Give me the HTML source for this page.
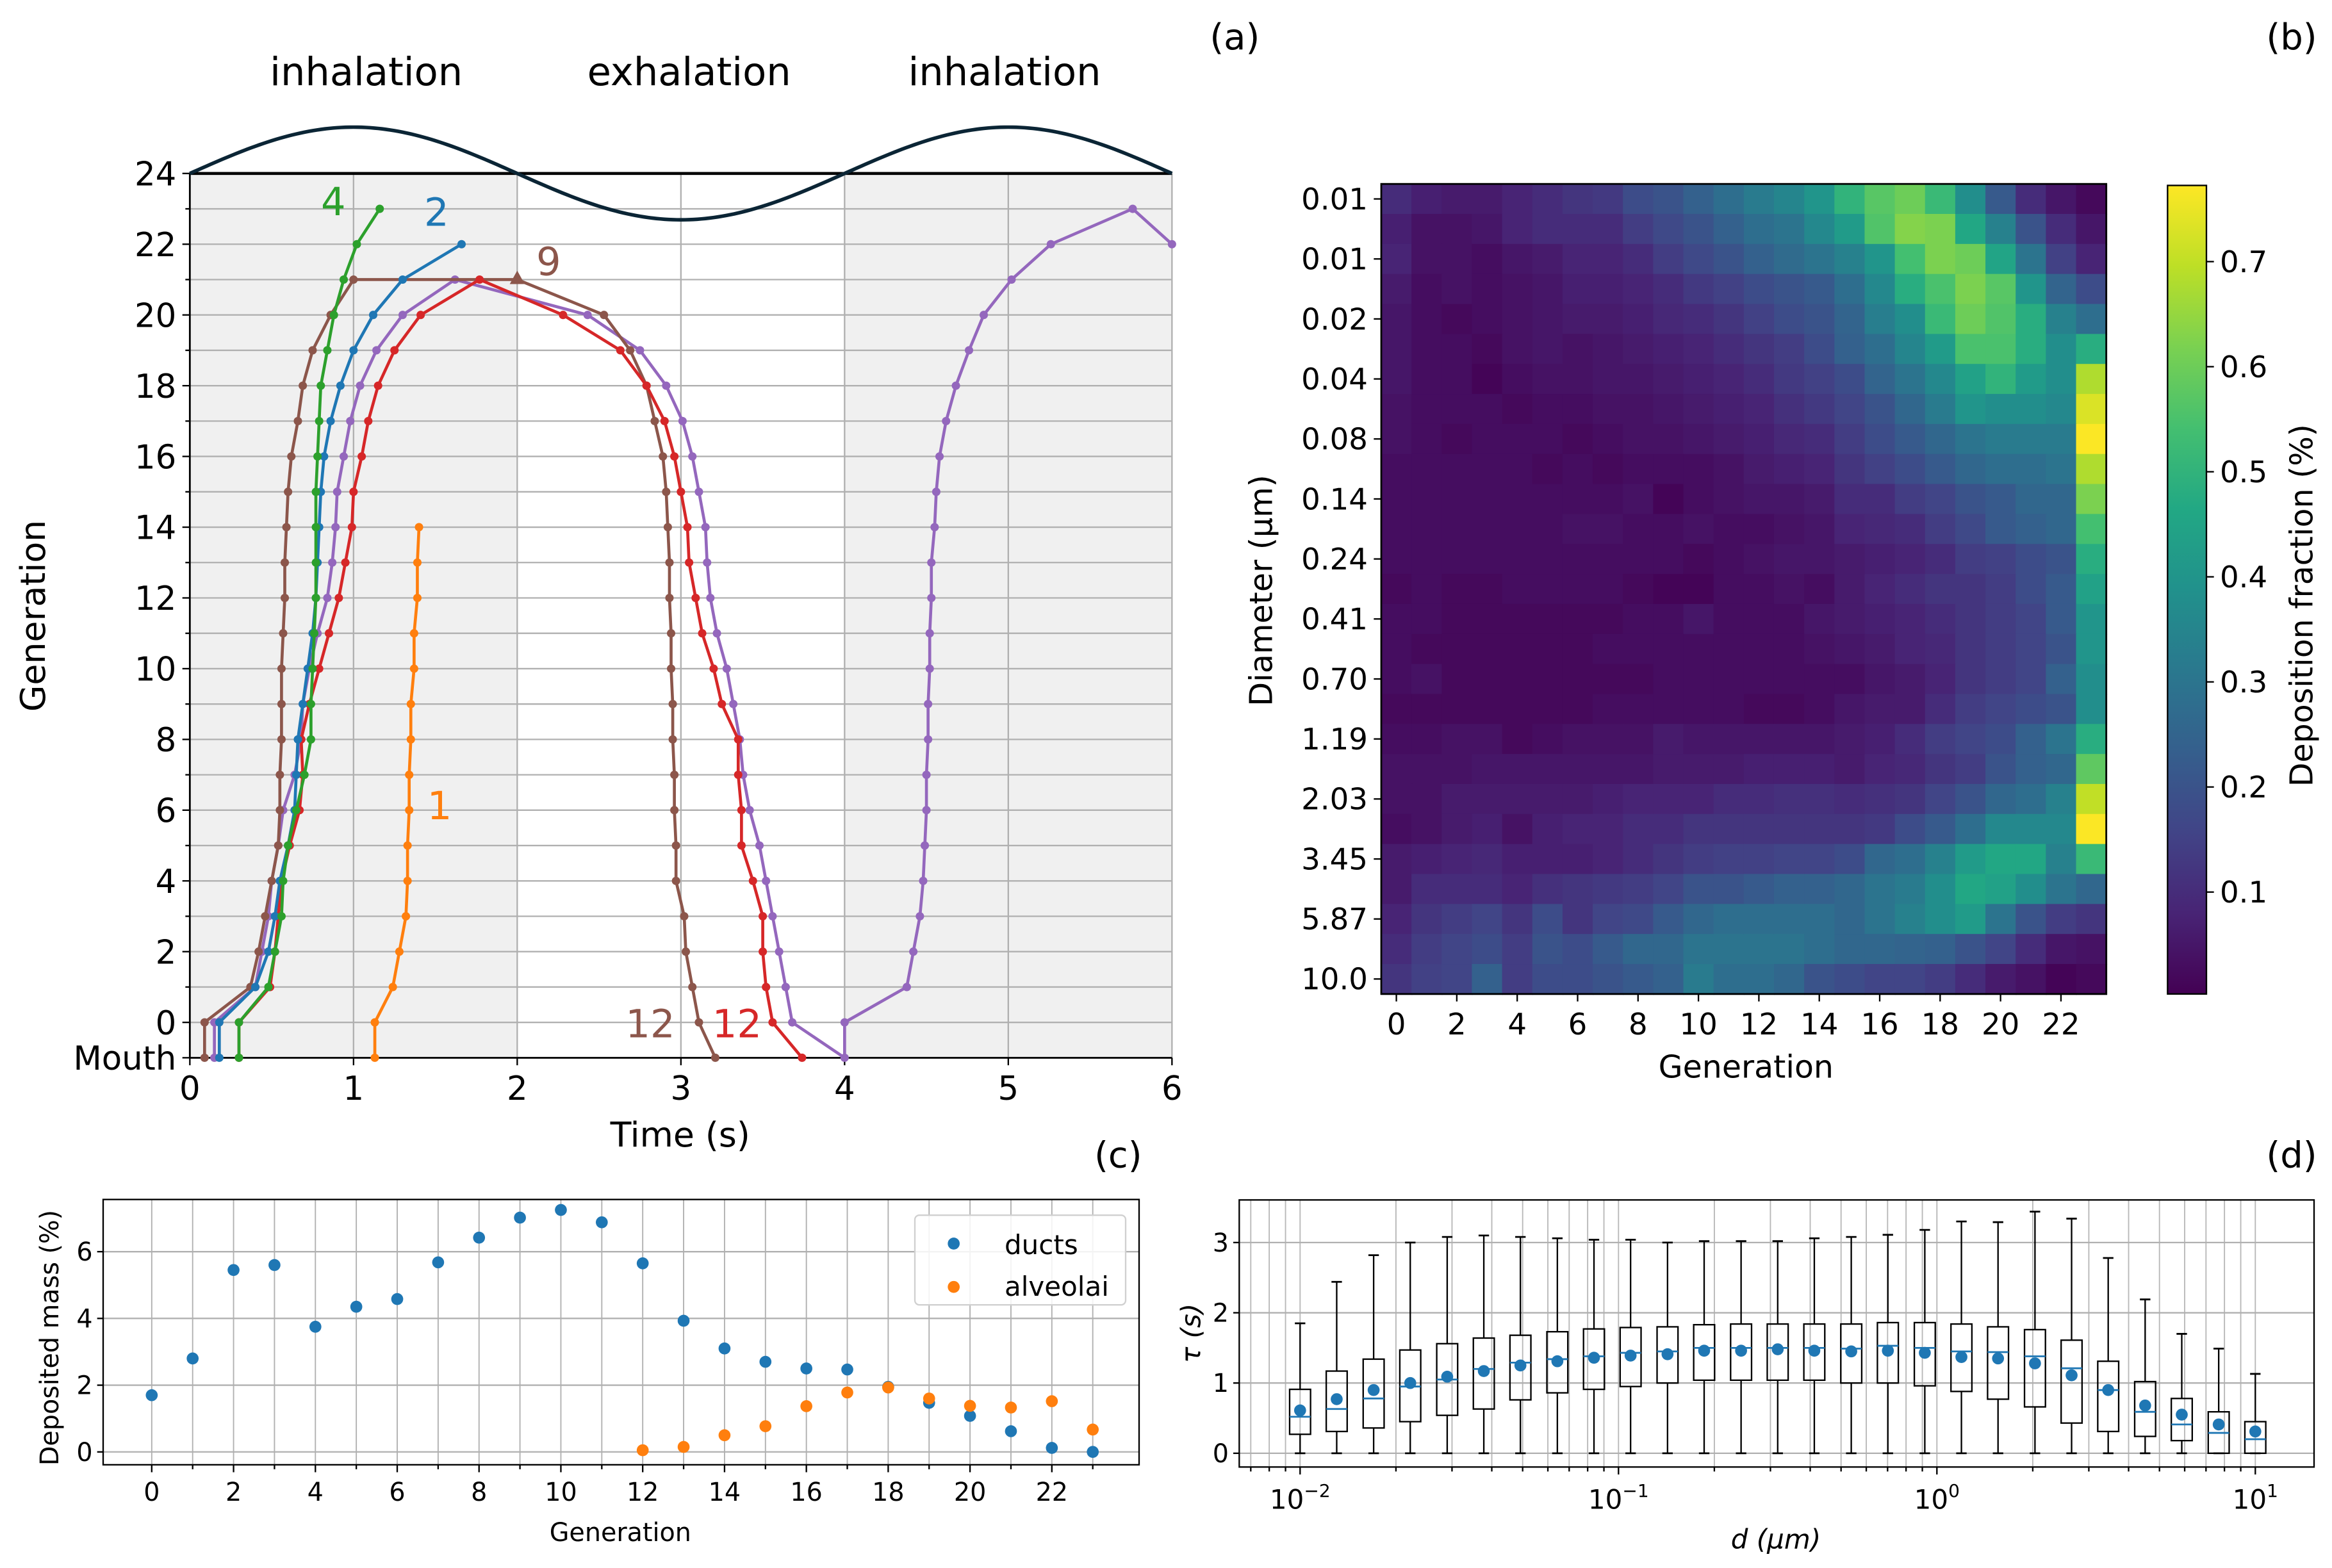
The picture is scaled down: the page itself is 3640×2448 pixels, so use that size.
<!DOCTYPE html>
<html><head><meta charset="utf-8"><style>
html,body{margin:0;padding:0;background:#fff;}
svg{display:block;font-family:"DejaVu Sans","Liberation Sans",sans-serif;}
</style></head><body>
<svg id="fig" xmlns="http://www.w3.org/2000/svg" width="3640" height="2448" viewBox="0 0 1560 1049">
<rect x="0" y="0" width="1560" height="1049" fill="#fff"/>
</svg>
<script>
// ---------- Panel (a) data: [time, generation] pairs (generation -1 = Mouth) ----------
const seriesGreen = [[0.30,-1],[0.30,0],[0.48,1],[0.52,2],[0.56,3],[0.57,4],[0.60,5],[0.65,6],[0.70,7],[0.74,8],[0.74,9],[0.75,10],[0.76,11],[0.77,12],[0.77,13],[0.77,14],[0.77,15],[0.78,16],[0.79,17],[0.80,18],[0.84,19],[0.88,20],[0.94,21],[1.02,22],[1.16,23]];
const seriesBlue = [[0.18,-1],[0.18,0],[0.40,1],[0.48,2],[0.52,3],[0.55,4],[0.60,5],[0.64,6],[0.65,7],[0.66,8],[0.69,9],[0.72,10],[0.75,11],[0.77,12],[0.78,13],[0.79,14],[0.80,15],[0.82,16],[0.86,17],[0.92,18],[1.00,19],[1.12,20],[1.30,21],[1.66,22]];
const seriesOrange = [[1.13,-1],[1.13,0],[1.24,1],[1.28,2],[1.32,3],[1.33,4],[1.33,5],[1.34,6],[1.34,7],[1.35,8],[1.35,9],[1.37,10],[1.37,11],[1.39,12],[1.39,13],[1.40,14]];
const seriesBrown = [[0.09,-1],[0.09,0],[0.37,1],[0.42,2],[0.46,3],[0.50,4],[0.54,5],[0.55,6],[0.55,7],[0.56,8],[0.56,9],[0.56,10],[0.57,11],[0.58,12],[0.58,13],[0.59,14],[0.60,15],[0.62,16],[0.66,17],[0.69,18],[0.75,19],[0.86,20],[1.00,21],[2.00,21],[2.53,20],[2.69,19],[2.79,18],[2.84,17],[2.89,16],[2.91,15],[2.92,14],[2.93,13],[2.93,12],[2.94,11],[2.94,10],[2.95,9],[2.95,8],[2.96,7],[2.96,6],[2.97,5],[2.97,4],[3.02,3],[3.03,2],[3.07,1],[3.11,0],[3.21,-1]];
const seriesRed = [[0.30,-1],[0.30,0],[0.49,1],[0.52,2],[0.54,3],[0.56,4],[0.61,5],[0.67,6],[0.69,7],[0.68,8],[0.73,9],[0.79,10],[0.85,11],[0.91,12],[0.95,13],[0.99,14],[1.00,15],[1.05,16],[1.09,17],[1.15,18],[1.25,19],[1.41,20],[1.77,21],[2.28,20],[2.63,19],[2.79,18],[2.90,17],[2.96,16],[3.00,15],[3.04,14],[3.05,13],[3.09,12],[3.13,11],[3.20,10],[3.25,9],[3.35,8],[3.35,7],[3.37,6],[3.37,5],[3.44,4],[3.50,3],[3.50,2],[3.52,1],[3.56,0],[3.74,-1]];
const seriesPurple = [[0.15,-1],[0.15,0],[0.40,1],[0.44,2],[0.48,3],[0.50,4],[0.54,5],[0.57,6],[0.64,7],[0.68,8],[0.69,9],[0.73,10],[0.78,11],[0.84,12],[0.87,13],[0.89,14],[0.90,15],[0.94,16],[0.98,17],[1.04,18],[1.14,19],[1.30,20],[1.62,21],[2.43,20],[2.75,19],[2.91,18],[3.01,17],[3.07,16],[3.11,15],[3.15,14],[3.16,13],[3.18,12],[3.22,11],[3.28,10],[3.32,9],[3.36,8],[3.38,7],[3.42,6],[3.48,5],[3.52,4],[3.56,3],[3.60,2],[3.64,1],[3.68,0],[4.00,-1],[4.00,0],[4.38,1],[4.42,2],[4.46,3],[4.48,4],[4.49,5],[4.50,6],[4.50,7],[4.51,8],[4.51,9],[4.52,10],[4.52,11],[4.53,12],[4.53,13],[4.55,14],[4.56,15],[4.58,16],[4.62,17],[4.68,18],[4.76,19],[4.85,20],[5.02,21],[5.26,22],[5.76,23],[6.00,22]];
const timeTicks = [0,1,2,3,4,5,6];
const genTicks = [0,2,4,6,8,10,12,14,16,18,20,22,24];

// ---------- Panel (b) data ----------
const diamLabels = ["0.01","0.01","0.02","0.04","0.08","0.14","0.24","0.41","0.70","1.19","2.03","3.45","5.87","10.0"];
const heatGenTicks = [0,2,4,6,8,10,12,14,16,18,20,22];
const cbarTicks = [0.1,0.2,0.3,0.4,0.5,0.6,0.7];
const heat = [
[.10,.07,.06,.06,.08,.10,.12,.13,.18,.20,.24,.28,.32,.35,.40,.50,.57,.60,.52,.38,.22,.10,.05,.02],
[.07,.04,.04,.05,.08,.10,.10,.10,.14,.17,.20,.24,.28,.30,.36,.42,.56,.63,.62,.46,.34,.20,.10,.05],
[.08,.04,.04,.03,.05,.06,.08,.08,.10,.14,.17,.20,.24,.27,.30,.34,.40,.54,.62,.60,.45,.30,.15,.08],
[.06,.03,.04,.03,.04,.05,.07,.07,.08,.10,.13,.15,.18,.20,.22,.28,.36,.48,.55,.62,.57,.40,.25,.18],
[.05,.03,.02,.03,.04,.05,.06,.06,.07,.09,.10,.12,.15,.18,.20,.25,.33,.38,.52,.60,.56,.48,.34,.28],
[.05,.03,.03,.02,.04,.05,.04,.05,.06,.07,.08,.10,.12,.14,.18,.24,.28,.35,.42,.55,.55,.48,.38,.48],
[.05,.03,.03,.01,.03,.04,.04,.05,.05,.06,.07,.08,.10,.13,.15,.18,.25,.30,.36,.44,.50,.42,.38,.68],
[.04,.03,.03,.03,.02,.03,.03,.04,.04,.05,.06,.07,.08,.11,.13,.16,.20,.26,.32,.40,.38,.38,.36,.73],
[.04,.03,.02,.03,.03,.03,.02,.03,.04,.04,.05,.06,.07,.09,.10,.14,.18,.22,.26,.30,.32,.32,.32,.77],
[.03,.03,.03,.03,.03,.02,.03,.02,.03,.03,.03,.04,.06,.07,.08,.12,.15,.18,.22,.26,.28,.28,.30,.68],
[.03,.03,.03,.03,.03,.03,.03,.03,.04,.01,.03,.04,.05,.05,.06,.10,.10,.14,.16,.20,.22,.26,.26,.62],
[.03,.03,.03,.03,.03,.03,.04,.04,.03,.03,.04,.03,.03,.04,.05,.08,.09,.10,.14,.17,.22,.24,.26,.54],
[.03,.03,.03,.03,.03,.03,.03,.03,.03,.03,.02,.03,.04,.05,.05,.06,.07,.08,.10,.14,.15,.18,.20,.48],
[.02,.03,.02,.02,.03,.03,.03,.03,.02,.01,.01,.03,.03,.04,.03,.06,.08,.10,.12,.12,.14,.18,.22,.44],
[.03,.03,.02,.02,.02,.02,.02,.02,.03,.03,.05,.03,.03,.03,.05,.06,.07,.08,.10,.12,.14,.16,.22,.40],
[.03,.02,.02,.02,.02,.02,.02,.03,.03,.03,.03,.03,.03,.03,.04,.05,.06,.08,.09,.12,.14,.16,.20,.40],
[.03,.04,.02,.02,.02,.02,.02,.02,.02,.03,.03,.03,.03,.03,.03,.03,.05,.06,.08,.12,.14,.16,.24,.38],
[.02,.02,.02,.02,.02,.02,.02,.03,.03,.03,.03,.03,.02,.02,.03,.05,.06,.06,.10,.14,.16,.18,.20,.38],
[.03,.03,.04,.04,.02,.03,.04,.04,.04,.06,.05,.05,.05,.05,.05,.06,.07,.10,.14,.16,.18,.24,.30,.48],
[.04,.04,.04,.05,.05,.05,.05,.05,.05,.06,.06,.06,.07,.07,.07,.06,.08,.09,.12,.14,.20,.24,.26,.58],
[.04,.04,.06,.06,.06,.06,.06,.07,.08,.08,.08,.10,.10,.11,.11,.10,.11,.12,.16,.20,.26,.28,.34,.70],
[.03,.04,.06,.07,.04,.07,.08,.08,.10,.10,.12,.12,.12,.12,.12,.12,.13,.18,.22,.28,.36,.36,.36,.77],
[.06,.07,.08,.09,.07,.07,.07,.08,.10,.12,.14,.15,.15,.16,.16,.18,.26,.28,.34,.42,.46,.46,.34,.52],
[.06,.10,.10,.10,.08,.11,.12,.13,.14,.16,.20,.20,.22,.24,.24,.26,.30,.32,.38,.46,.44,.38,.30,.26],
[.08,.12,.14,.16,.12,.18,.12,.16,.17,.22,.26,.28,.28,.28,.28,.26,.30,.34,.38,.42,.30,.20,.14,.12],
[.10,.14,.16,.18,.14,.20,.18,.22,.26,.26,.30,.30,.30,.30,.28,.26,.26,.25,.24,.20,.16,.10,.05,.04],
[.12,.15,.16,.24,.14,.18,.18,.20,.22,.24,.32,.28,.28,.26,.20,.18,.16,.16,.14,.10,.06,.04,.01,.02]];

// ---------- Panel (c) data ----------
const ductGens = [0,1,2,3,4,5,6,7,8,9,10,11,12,13,14,15,16,17,18,19,20,21,22,23];
const ductVals = [1.70,2.80,5.45,5.60,3.75,4.35,4.58,5.68,6.42,7.02,7.25,6.88,5.65,3.93,3.10,2.70,2.50,2.47,1.95,1.47,1.08,0.62,0.12,0.00];
const alvGens = [12,13,14,15,16,17,18,19,20,21,22,23];
const alvVals = [0.05,0.15,0.50,0.77,1.37,1.78,1.93,1.60,1.38,1.33,1.52,0.67];
const massTicks = [0,2,4,6];
const cGenTicks = [0,2,4,6,8,10,12,14,16,18,20,22];

// ---------- Panel (d) data ----------
const boxQ1 = [.27,.31,.36,.45,.54,.63,.76,.86,.91,.95,1.00,1.04,1.04,1.04,1.04,1.00,1.00,.96,.88,.77,.66,.43,.31,.24,.18,0,0];
const boxMed = [.52,.63,.78,.95,1.05,1.20,1.29,1.34,1.38,1.43,1.45,1.50,1.50,1.50,1.50,1.49,1.53,1.50,1.45,1.44,1.38,1.21,.90,.59,.41,.29,.20];
const boxQ3 = [.91,1.17,1.34,1.47,1.56,1.64,1.68,1.73,1.77,1.79,1.80,1.83,1.84,1.84,1.84,1.84,1.86,1.86,1.84,1.80,1.76,1.61,1.31,1.02,.78,.59,.45];
const boxHi = [1.85,2.44,2.82,3.00,3.08,3.10,3.08,3.06,3.04,3.04,3.00,3.02,3.02,3.02,3.06,3.08,3.11,3.18,3.30,3.29,3.44,3.34,2.78,2.19,1.70,1.49,1.13];
const boxLo = [0,0,0,0,0,0,0,0,0,0,0,0,0,0,0,0,0,0,0,0,0,0,0,0,0,0,0];
const boxMean = [.61,.77,.90,1.00,1.09,1.17,1.25,1.31,1.36,1.39,1.41,1.46,1.46,1.48,1.46,1.45,1.46,1.43,1.37,1.35,1.28,1.11,.90,.68,.55,.41,.31];
const boxLogD = [-2,-1.885,-1.769,-1.654,-1.538,-1.423,-1.308,-1.192,-1.077,-0.962,-0.846,-0.731,-0.615,-0.5,-0.385,-0.269,-0.154,-0.038,0.077,0.192,0.308,0.423,0.538,0.654,0.769,0.885,1];
const tauTicks = [0,1,2,3];
const decadeTicks = [-2,-1,0,1];

// ---------- helpers ----------
const svg = document.getElementById('fig');
const NS = 'http://www.w3.org/2000/svg';
function mk(tag, attrs, parent){
  const e = document.createElementNS(NS, tag);
  for (const k in attrs) e.setAttribute(k, attrs[k]);
  (parent||svg).appendChild(e);
  return e;
}
function txt(s, x, y, size, anchor, parent, extra){
  const t = mk('text', Object.assign({x:x, y:y, 'font-size':size, 'text-anchor':anchor||'middle', fill:'#000'}, extra||{}), parent);
  t.textContent = s;
  return t;
}
const C = {blue:'#1f77b4', orange:'#ff7f0e', green:'#2ca02c', red:'#d62728', purple:'#9467bd', brown:'#8c564b'};

// ================= Panel (a) =================
const A = {x0:127, x1:784, y0:116, yBottom:707.7};
const ax = t => A.x0 + t*(A.x1-A.x0)/6;
const ay = g => 684 - g*23.667;
const gA = mk('g', {});


[[0,2],[4,6]].forEach(r=>{
  const b = mk('rect', {x:ax(r[0]), y:A.y0, width:ax(r[1])-ax(r[0]), height:A.yBottom-A.y0, fill:'#f0f0f0'}, gA);
  
  
});
for (let g=-1; g<=24; g++){
  mk('line', {x1:A.x0, x2:A.x1, y1:ay(g), y2:ay(g), stroke:'#b0b0b0', 'stroke-width':1}, gA);
}
timeTicks.forEach(t=>{
  mk('line', {x1:ax(t), x2:ax(t), y1:A.y0, y2:A.yBottom, stroke:'#b0b0b0', 'stroke-width':1}, gA);
  mk('line', {x1:ax(t), x2:ax(t), y1:A.yBottom, y2:A.yBottom+5, stroke:'#000', 'stroke-width':1}, gA);
  const l = txt(String(t), ax(t), A.yBottom+28, 22, 'middle', gA);
  
  
});
genTicks.forEach(g=>{
  mk('line', {x1:A.x0-5, x2:A.x0, y1:ay(g), y2:ay(g), stroke:'#000'}, gA);
  const l = txt(String(g), A.x0-9, ay(g)+8, 22, 'end', gA);
  
  
});
for (let g=1; g<24; g+=2) mk('line', {x1:A.x0-3, x2:A.x0, y1:ay(g), y2:ay(g), stroke:'#000'}, gA);
mk('line', {x1:A.x0-5, x2:A.x0, y1:ay(-1), y2:ay(-1), stroke:'#000'}, gA);
txt('Mouth', A.x0-9, ay(-1)+8, 22, 'end', gA);
mk('line', {x1:A.x0, x2:A.x0, y1:A.y0, y2:A.yBottom, stroke:'#000', 'stroke-width':1.2}, gA);
mk('line', {x1:A.x0, x2:A.x1, y1:A.yBottom, y2:A.yBottom, stroke:'#000', 'stroke-width':1.2}, gA);
mk('line', {x1:A.x0, x2:A.x1, y1:A.y0, y2:A.y0, stroke:'#000', 'stroke-width':2}, gA);
let sp = '';
for (let i=0;i<=240;i++){ const t=6*i/240; sp += (i?'L':'M') + ax(t).toFixed(2) + ' ' + (116 - 31*Math.sin(Math.PI*t/2)).toFixed(2); }
const sine = mk('path', {d:sp, fill:'none', stroke:'#0b2535', 'stroke-width':2.4}, gA);


function drawSeries(data, color, name){
  const g = mk('g', {}, gA);
  
  
  mk('polyline', {points:data.map(p=>ax(p[0]).toFixed(2)+','+ay(p[1]).toFixed(2)).join(' '), fill:'none', stroke:color, 'stroke-width':2}, g);
  data.forEach(p=>{ mk('circle', {cx:ax(p[0]), cy:ay(p[1]), r:2.8, fill:color}, g); });
  return g;
}
drawSeries(seriesPurple, C.purple, 'series-purple');
drawSeries(seriesBrown, C.brown, 'series-brown');
drawSeries(seriesRed, C.red, 'series-red');
drawSeries(seriesBlue, C.blue, 'series-blue');
drawSeries(seriesGreen, C.green, 'series-green');
drawSeries(seriesOrange, C.orange, 'series-orange');
const tri = mk('polygon', {points:`${ax(2)},${ay(21)-6} ${ax(2)-5},${ay(21)+3} ${ax(2)+5},${ay(21)+3}`, fill:C.brown}, gA);


[['4',223,144,C.green],['2',292,151,C.blue],['9',367,184,C.brown],['1',294,548,C.orange],['12',435,694,C.brown],['12',493,694,C.red]].forEach(s=>{
  const l = txt(s[0], s[1], s[2], 26, 'middle', gA, {fill:s[3]});
  
  
});
[['inhalation',245],['exhalation',461],['inhalation',672]].forEach(s=>{
  const l = txt(s[0], s[1], 57, 26, 'middle', gA);
  
  
});
const axa = txt('Time (s)', 455, 767, 23, 'middle', gA);


const aya = txt('Generation', 0, 0, 23, 'middle', gA, {transform:'translate(30,412) rotate(-90)'});


const la = txt('(a)', 826, 33, 24, 'middle', gA);



// ================= Panel (b) heatmap =================
const stops = [[0,'#440154'],[0.1,'#482475'],[0.2,'#414487'],[0.3,'#355f8d'],[0.4,'#2a788e'],[0.5,'#21918c'],[0.6,'#22a884'],[0.7,'#44bf70'],[0.8,'#7ad151'],[0.9,'#bddf26'],[1,'#fde725']];
function hex(h){return [parseInt(h.slice(1,3),16),parseInt(h.slice(3,5),16),parseInt(h.slice(5,7),16)];}
function viridis(f){
  f=Math.max(0,Math.min(1,f));
  for (let i=1;i<stops.length;i++){
    if (f<=stops[i][0]){
      const a=hex(stops[i-1][1]), b=hex(stops[i][1]), u=(f-stops[i-1][0])/(stops[i][0]-stops[i-1][0]);
      return 'rgb('+a.map((v,k)=>Math.round(v+(b[k]-v)*u)).join(',')+')';
    }
  }
  return stops[stops.length-1][1];
}
const vmin = 0.003, vmax = 0.7725;
const B = {x0:924, x1:1409, y0:123, y1:665};
const nR = heat.length, nC = heat[0].length;
const cw = (B.x1-B.x0)/nC, ch = (B.y1-B.y0)/nR;
const bx = c => B.x0 + c*cw;
const by = r => B.y0 + r*ch;
const gB = mk('g', {});


heat.forEach((row,r)=>row.forEach((v,c)=>{
  const cell = mk('rect', {x:bx(c).toFixed(2), y:by(r).toFixed(2), width:(cw+0.6).toFixed(2), height:(ch+0.6).toFixed(2), fill:viridis((v-vmin)/(vmax-vmin))}, gB);
  
  
}));
mk('rect', {x:B.x0, y:B.y0, width:B.x1-B.x0, height:B.y1-B.y0, fill:'none', stroke:'#000', 'stroke-width':1.2}, gB);
diamLabels.forEach((s,i)=>{
  const y = by(2*i)+ch/2;
  mk('line', {x1:B.x0-5, x2:B.x0, y1:y, y2:y, stroke:'#000'}, gB);
  const l = txt(s, B.x0-9, y+7, 20, 'end', gB);
  
  
});
heatGenTicks.forEach(g=>{
  const x = bx(g)+cw/2;
  mk('line', {x1:x, x2:x, y1:B.y1, y2:B.y1+5, stroke:'#000'}, gB);
  const l = txt(String(g), x, B.y1+27, 20, 'middle', gB);
  
  
});
const bxa = txt('Generation', 1168, 721, 21, 'middle', gB);


const bya = txt('Diameter (μm)', 0, 0, 21, 'middle', gB, {transform:'translate(851,395) rotate(-90)'});


const CB = {x0:1450, x1:1476, y0:124, y1:665};
const cby = v => CB.y1 - (v-vmin)/(vmax-vmin)*(CB.y1-CB.y0);
const defs = mk('defs', {});
const grad = mk('linearGradient', {id:'vir', x1:0, y1:1, x2:0, y2:0}, defs);
stops.forEach(s=>mk('stop', {offset:s[0], 'stop-color':s[1]}, grad));
const cb = mk('rect', {x:CB.x0, y:CB.y0, width:CB.x1-CB.x0, height:CB.y1-CB.y0, fill:'url(#vir)', stroke:'#000', 'stroke-width':1}, gB);


cbarTicks.forEach(v=>{
  mk('line', {x1:CB.x1, x2:CB.x1+5, y1:cby(v), y2:cby(v), stroke:'#000'}, gB);
  const l = txt(v.toFixed(1), CB.x1+9, cby(v)+7, 20, 'start', gB);
  
  
});
const cbt = txt('Deposition fraction (%)', 0, 0, 21, 'middle', gB, {transform:'translate(1547,405) rotate(-90)'});


const lb = txt('(b)', 1533, 33, 24, 'middle', gB);



// ================= Panel (c) =================
const Cc = {x0:69, x1:762, y0:802.5, y1:980};
const cx = g => 101.5 + g*27.37;
const cy = v => 971.4 - v*22.33;
const gC = mk('g', {});


for (let g=0; g<=23; g++){
  mk('line', {x1:cx(g), x2:cx(g), y1:Cc.y0, y2:Cc.y1, stroke:'#b0b0b0', 'stroke-width':0.8}, gC);
  mk('line', {x1:cx(g), x2:cx(g), y1:Cc.y1, y2:Cc.y1+(g%2?3:5), stroke:'#000'}, gC);
}
massTicks.forEach(v=>{
  mk('line', {x1:Cc.x0, x2:Cc.x1, y1:cy(v), y2:cy(v), stroke:'#b0b0b0', 'stroke-width':1}, gC);
  mk('line', {x1:Cc.x0-4, x2:Cc.x0, y1:cy(v), y2:cy(v), stroke:'#000'}, gC);
  const l = txt(String(v), Cc.x0-7, cy(v)+6, 17, 'end', gC);
  
  
});
cGenTicks.forEach(g=>{
  const l = txt(String(g), cx(g), Cc.y1+24, 17, 'middle', gC);
  
  
});
mk('rect', {x:Cc.x0, y:Cc.y0, width:Cc.x1-Cc.x0, height:Cc.y1-Cc.y0, fill:'none', stroke:'#000', 'stroke-width':1}, gC);
ductVals.forEach((v,i)=>{
  const p = mk('circle', {cx:cx(ductGens[i]), cy:cy(v), r:4, fill:C.blue}, gC);
  
  
});
alvVals.forEach((v,i)=>{
  const p = mk('circle', {cx:cx(alvGens[i]), cy:cy(v), r:4, fill:C.orange}, gC);
  
  
});
const leg = mk('g', {}, gC);


mk('rect', {x:612, y:813, width:141, height:60, rx:3, fill:'#fff', 'fill-opacity':0.85, stroke:'#d0d0d0'}, leg);
mk('circle', {cx:638, cy:832, r:4, fill:C.blue}, leg);
mk('circle', {cx:638, cy:861, r:4, fill:C.orange}, leg);
txt('ducts', 672, 839, 18, 'start', leg);
txt('alveolai', 672, 867, 18, 'start', leg);
const cxa = txt('Generation', 415, 1031, 17, 'middle', gC);


const cya = txt('Deposited mass (%)', 0, 0, 17, 'middle', gC, {transform:'translate(39,895) rotate(-90)'});


const lc = txt('(c)', 748, 781, 24, 'middle', gC);



// ================= Panel (d) =================
const D = {x0:829, x1:1548, y0:802.8, y1:981.5};
const dx = ld => 869.7 + (ld+2)*213.0;
const dy = v => 972.3 - v*47.0;
const gD = mk('g', {});


for (let dec=-3; dec<=1; dec++){
  for (let m=1; m<=9; m++){
    const x = dx(dec + Math.log10(m));
    if (x < D.x0 || x > D.x1) continue;
    mk('line', {x1:x, x2:x, y1:D.y0, y2:D.y1, stroke:'#b8b8b8', 'stroke-width':0.8}, gD);
    mk('line', {x1:x, x2:x, y1:D.y1, y2:D.y1+(m===1?5:3), stroke:'#000'}, gD);
  }
}
tauTicks.forEach(v=>{
  mk('line', {x1:D.x0, x2:D.x1, y1:dy(v), y2:dy(v), stroke:'#b0b0b0', 'stroke-width':1}, gD);
  mk('line', {x1:D.x0-4, x2:D.x0, y1:dy(v), y2:dy(v), stroke:'#000'}, gD);
  const l = txt(String(v), D.x0-7, dy(v)+6, 17, 'end', gD);
  
  
});
decadeTicks.forEach(d=>{
  const t = mk('text', {x:dx(d), y:D.y1+28, 'font-size':18, 'text-anchor':'middle'}, gD);
  
  
  t.textContent = '10';
  const sup = mk('tspan', {dy:-8, 'font-size':12}, t);
  sup.textContent = d < 0 ? '−' + Math.abs(d) : String(d);
});
mk('rect', {x:D.x0, y:D.y0, width:D.x1-D.x0, height:D.y1-D.y0, fill:'none', stroke:'#000', 'stroke-width':1}, gD);
boxMed.forEach((m,i)=>{
  const g = mk('g', {}, gD);
  
  
  const x = dx(boxLogD[i]), hw = 7, cap = 3.5;
  mk('line', {x1:x, x2:x, y1:dy(boxQ3[i]), y2:dy(boxHi[i]), stroke:'#000', 'stroke-width':1}, g);
  mk('line', {x1:x, x2:x, y1:dy(boxQ1[i]), y2:dy(boxLo[i]), stroke:'#000', 'stroke-width':1}, g);
  mk('line', {x1:x-cap, x2:x+cap, y1:dy(boxHi[i]), y2:dy(boxHi[i]), stroke:'#000', 'stroke-width':1.2}, g);
  mk('line', {x1:x-cap, x2:x+cap, y1:dy(boxLo[i]), y2:dy(boxLo[i]), stroke:'#000', 'stroke-width':1.2}, g);
  mk('rect', {x:x-hw, y:dy(boxQ3[i]), width:2*hw, height:dy(boxQ1[i])-dy(boxQ3[i]), fill:'none', stroke:'#000', 'stroke-width':1}, g);
  mk('line', {x1:x-hw, x2:x+hw, y1:dy(m), y2:dy(m), stroke:C.blue, 'stroke-width':1.2}, g);
  mk('circle', {cx:x, cy:dy(boxMean[i]), r:4, fill:C.blue}, g);
});
const dxa = txt('d (μm)', 1188, 1036, 18, 'middle', gD, {'font-style':'italic'});


const dya = txt('τ (s)', 0, 0, 18, 'middle', gD, {transform:'translate(803,892) rotate(-90)', 'font-style':'italic'});


const ld = txt('(d)', 1533, 781, 24, 'middle', gD);


</script>
</body></html>
